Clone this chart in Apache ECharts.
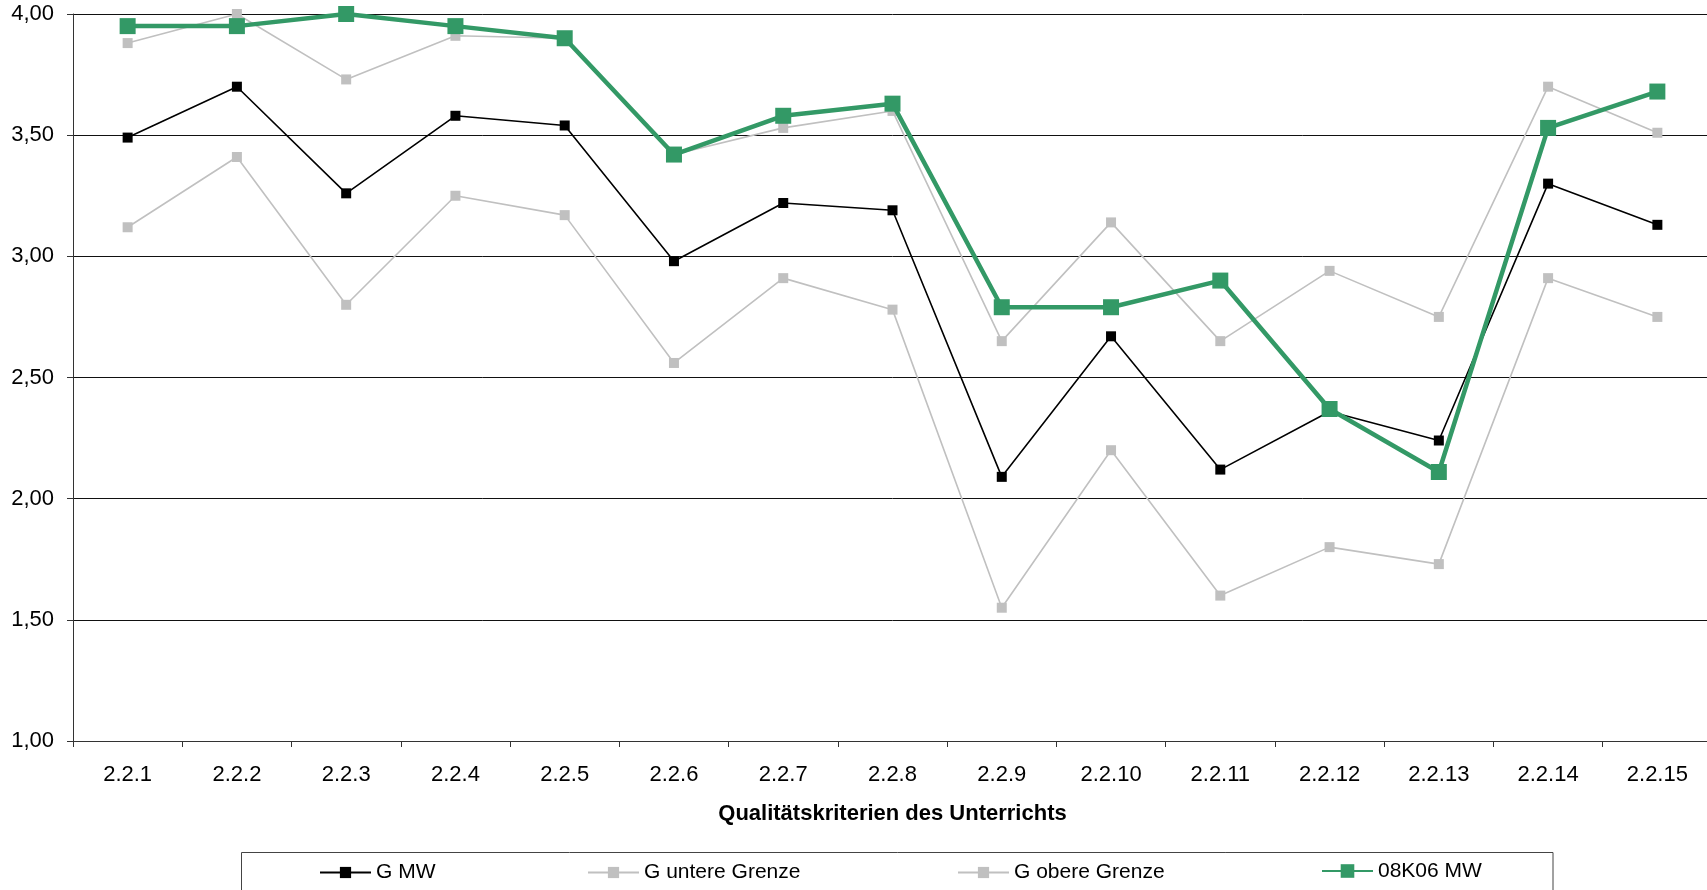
<!DOCTYPE html>
<html>
<head>
<meta charset="utf-8">
<title>Qualitätskriterien des Unterrichts</title>
<script src="https://cdn.jsdelivr.net/npm/echarts@6/dist/echarts.min.js"></script>
<style>
  html, body { margin: 0; padding: 0; background: #fff; overflow: hidden; }
  /* the plot area runs a few pixels past the right edge of the window */
  #chart { width: 1712px; height: 890px; }
</style>
</head>
<body>
<div id="chart"></div>
<script>
// Criteria on the x axis
const categories = ['2.2.1', '2.2.2', '2.2.3', '2.2.4', '2.2.5', '2.2.6', '2.2.7', '2.2.8',
  '2.2.9', '2.2.10', '2.2.11', '2.2.12', '2.2.13', '2.2.14', '2.2.15'];

// Series values
const gMW = [3.49, 3.70, 3.26, 3.58, 3.54, 2.98, 3.22, 3.19, 2.09, 2.67, 2.12, 2.36, 2.24, 3.30, 3.13];
const gUntereGrenze = [3.12, 3.41, 2.80, 3.25, 3.17, 2.56, 2.91, 2.78, 1.55, 2.20, 1.60, 1.80, 1.73, 2.91, 2.75];
const gObereGrenze = [3.88, 4.00, 3.73, 3.91, 3.90, 3.42, 3.53, 3.60, 2.65, 3.14, 2.65, 2.94, 2.75, 3.70, 3.51];
const k06MW = [3.95, 3.95, 4.00, 3.95, 3.90, 3.42, 3.58, 3.63, 2.79, 2.79, 2.90, 2.37, 2.11, 3.53, 3.68];

// Value axis range
const yMin = 1.0;
const yMax = 4.0;
const yStep = 0.5;

const seriesNames = ['G MW', 'G untere Grenze', 'G obere Grenze', '08K06 MW'];
const axisTitle = 'Qualitätskriterien des Unterrichts';

const FONT = '"Liberation Sans", Arial, sans-serif';
const GREEN = '#339966';
const GREY = '#c0c0c0';

const chart = echarts.init(document.getElementById('chart'), null, { renderer: 'canvas' });

// one legend block per series so each entry sits in its own column
function legendAt(name, left, itemHeight) {
  return {
    data: [name],
    left: left,
    top: 869 - itemHeight / 2,
    padding: 0,
    itemWidth: 51,
    itemHeight: itemHeight,
    selectedMode: false,
    textStyle: { fontFamily: FONT, fontSize: 21, color: '#000' }
  };
}

const option = {
  animation: false,
  backgroundColor: '#ffffff',
  grid: { left: 73, top: 14, right: 0, height: 727, containLabel: false },
  xAxis: {
    type: 'category',
    data: categories,
    boundaryGap: true,
    name: axisTitle,
    nameLocation: 'middle',
    nameGap: 62,
    nameTextStyle: { fontFamily: FONT, fontSize: 22, fontWeight: 'bold', color: '#000' },
    axisLine: { show: true, lineStyle: { color: '#333', width: 1 } },
    axisTick: { show: true, length: 6, lineStyle: { color: '#333' } },
    axisLabel: { fontFamily: FONT, fontSize: 22, color: '#000', margin: 23, interval: 0 },
    splitLine: { show: false }
  },
  yAxis: {
    type: 'value',
    min: yMin,
    max: yMax,
    interval: yStep,
    axisLine: { show: true, lineStyle: { color: '#333', width: 1 } },
    axisTick: { show: true, length: 6, lineStyle: { color: '#333' } },
    axisLabel: {
      fontFamily: FONT, fontSize: 22, color: '#000', margin: 19,
      formatter: v => v.toFixed(2).replace('.', ',')
    },
    splitLine: { show: true, lineStyle: { color: '#111', width: 1 } }
  },
  legend: [
    legendAt(seriesNames[0], 319, 14),
    legendAt(seriesNames[1], 587, 14),
    legendAt(seriesNames[2], 957, 14),
    legendAt(seriesNames[3], 1321, 17)
  ],
  graphic: [{
    type: 'rect',
    shape: { x: 241.5, y: 852.5, width: 1311.5, height: 80 },
    style: { fill: 'none', stroke: '#444', lineWidth: 1 },
    silent: true
  }],
  series: [
    {
      name: seriesNames[0], type: 'line', data: gMW,
      symbol: 'rect', symbolSize: 10,
      lineStyle: { color: '#000', width: 1.6 },
      itemStyle: { color: '#000' },
      z: 3
    },
    {
      name: seriesNames[1], type: 'line', data: gUntereGrenze,
      symbol: 'rect', symbolSize: 10,
      lineStyle: { color: GREY, width: 1.6 },
      itemStyle: { color: GREY },
      z: 2
    },
    {
      name: seriesNames[2], type: 'line', data: gObereGrenze,
      symbol: 'rect', symbolSize: 10,
      lineStyle: { color: GREY, width: 1.6 },
      itemStyle: { color: GREY },
      z: 2
    },
    {
      name: seriesNames[3], type: 'line', data: k06MW,
      symbol: 'rect', symbolSize: 16,
      lineStyle: { color: GREEN, width: 4.5 },
      itemStyle: { color: GREEN },
      z: 4
    }
  ]
};

chart.setOption(option);
</script>
</body>
</html>
